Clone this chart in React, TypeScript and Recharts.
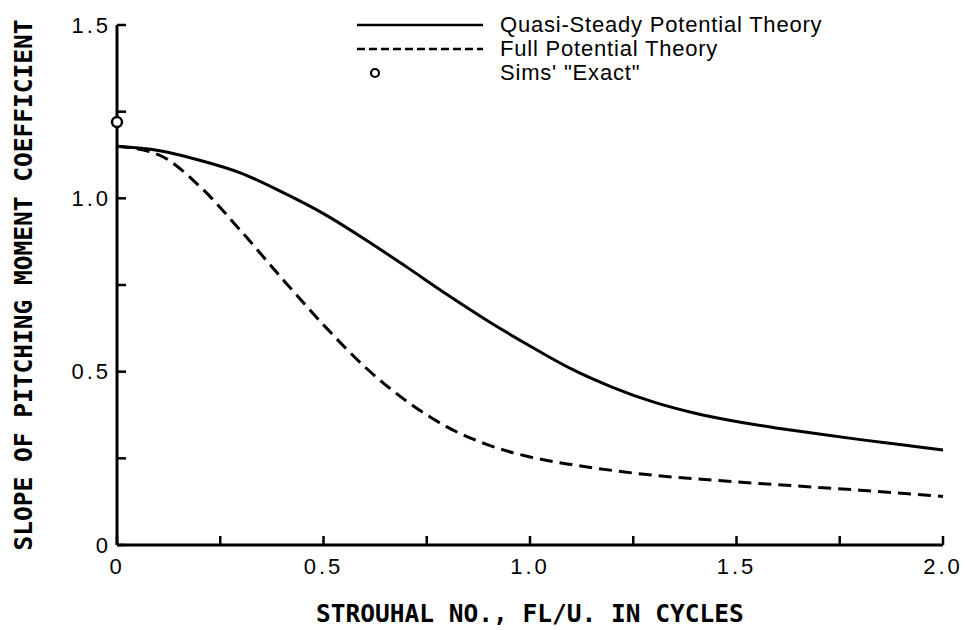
import React from 'react';
import {
  ComposedChart,
  Line,
  Scatter,
  XAxis,
  YAxis,
  Legend,
} from 'recharts';

// strouhal number, FL/U
const strouhal = [0, 0.1, 0.2, 0.3, 0.4, 0.5, 0.6, 0.7, 0.8, 0.9, 1.0, 1.1, 1.2, 1.3, 1.4, 1.5, 1.6, 1.7, 1.8, 1.9, 2.0];
const quasiSteady = [1.15, 1.138, 1.11, 1.073, 1.018, 0.956, 0.882, 0.803, 0.722, 0.645, 0.574, 0.508, 0.455, 0.412, 0.38, 0.356, 0.337, 0.32, 0.304, 0.289, 0.274];
const fullPotential = [1.15, 1.126, 1.035, 0.906, 0.768, 0.635, 0.514, 0.416, 0.34, 0.288, 0.254, 0.232, 0.215, 0.201, 0.191, 0.182, 0.174, 0.166, 0.158, 0.149, 0.14];

const simsX = [0];
const simsExact = [1.22];

const xTicks = [0, 0.25, 0.5, 0.75, 1.0, 1.25, 1.5, 1.75, 2.0];
const yTicks = [0, 0.25, 0.5, 0.75, 1.0, 1.25, 1.5];

const data = strouhal.map((x, i) => ({ x, quasi: quasiSteady[i], full: fullPotential[i] }));
const simsData = simsX.map((x, i) => ({ x, sims: simsExact[i] }));

const labelFont = '"Liberation Sans", Arial, sans-serif';
const titleFont = '"DejaVu Sans Mono", monospace';

const fmt = (v: number) => {
  if (v === 0) return '0';
  if (Math.round(v * 2) !== v * 2) return '';
  return v.toFixed(1);
};

const OpenDot = (props: any) => (
  <circle cx={props.cx} cy={props.cy} r={5} fill="#fff" stroke="#000" strokeWidth={2.5} />
);

const LegendBox = () => (
  <div style={{ fontFamily: labelFont, fontSize: 22, letterSpacing: 0.8, color: '#000', lineHeight: '24px' }}>
    <div style={{ display: 'flex', alignItems: 'center' }}>
      <svg width={145} height={24}>
        <line x1={2} y1={12} x2={128} y2={12} stroke="#000" strokeWidth={2.5} />
      </svg>
      <span>Quasi-Steady Potential Theory</span>
    </div>
    <div style={{ display: 'flex', alignItems: 'center' }}>
      <svg width={145} height={24}>
        <line x1={2} y1={12} x2={128} y2={12} stroke="#000" strokeWidth={2.5} strokeDasharray="8 4" />
      </svg>
      <span>Full Potential Theory</span>
    </div>
    <div style={{ display: 'flex', alignItems: 'center' }}>
      <svg width={145} height={24}>
        <circle cx={20} cy={12} r={4} fill="#fff" stroke="#000" strokeWidth={2.2} />
      </svg>
      <span>Sims' "Exact"</span>
    </div>
  </div>
);

const YTitle = ({ viewBox }: any) => {
  const cy = viewBox.y + viewBox.height / 2;
  return (
    <text
      x={23}
      y={cy}
      transform={`rotate(-90, 23, ${cy})`}
      textAnchor="middle"
      dominantBaseline="central"
      fontFamily={titleFont}
      fontWeight="bold"
      fontSize={24.5}
      fill="#000"
    >
      SLOPE OF PITCHING MOMENT COEFFICIENT
    </text>
  );
};

export default function App() {
  return (
    <div style={{ position: 'absolute', left: 0, top: 0, background: '#fff' }}>
      <ComposedChart width={966} height={630} data={data} margin={{ top: 25, right: 23, bottom: 0, left: 0 }}>
        <XAxis
          dataKey="x"
          type="number"
          domain={[0, 2]}
          ticks={xTicks}
          tickFormatter={fmt}
          interval={0}
          height={85}
          axisLine={{ stroke: '#000', strokeWidth: 3 }}
          tickLine={{ stroke: '#000', strokeWidth: 2.5 }}
          tickSize={-9}
          tickMargin={22}
          tick={{ fill: '#000', fontSize: 22, fontFamily: labelFont, letterSpacing: 3 }}
          label={{
            value: 'STROUHAL NO., FL/U. IN CYCLES',
            position: 'insideBottom',
            offset: 8,
            fill: '#000',
            fontSize: 24.5,
            fontWeight: 'bold',
            fontFamily: titleFont,
          }}
        />
        <YAxis
          type="number"
          domain={[0, 1.5]}
          ticks={yTicks}
          tickFormatter={fmt}
          interval={0}
          width={117}
          axisLine={{ stroke: '#000', strokeWidth: 3 }}
          tickLine={{ stroke: '#000', strokeWidth: 2.5 }}
          tickSize={-9}
          tickMargin={15}
          tick={{ fill: '#000', fontSize: 22, fontFamily: labelFont, letterSpacing: 3 }}
          label={{ content: YTitle }}
        />
        <Legend
          content={LegendBox}
          verticalAlign="top"
          wrapperStyle={{ position: 'absolute', top: 13, left: 355, width: 'auto', height: 0, overflow: 'visible' }}
        />
        <Line
          dataKey="quasi"
          type="monotone"
          stroke="#000"
          strokeWidth={3}
          dot={false}
          isAnimationActive={false}
        />
        <Line
          dataKey="full"
          type="monotone"
          stroke="#000"
          strokeWidth={3}
          strokeDasharray="13 7"
          dot={false}
          isAnimationActive={false}
        />
        <Scatter data={simsData} dataKey="sims" shape={OpenDot} isAnimationActive={false} />
      </ComposedChart>
    </div>
  );
}
